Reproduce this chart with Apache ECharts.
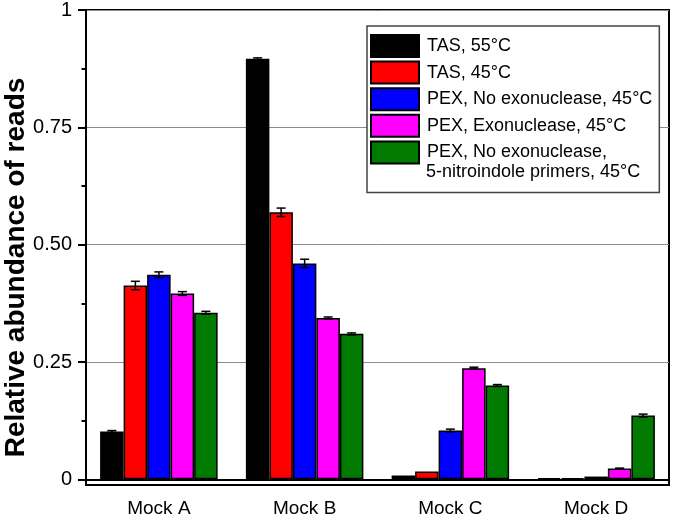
<!DOCTYPE html>
<html>
<head>
<meta charset="utf-8">
<script src="https://cdn.jsdelivr.net/npm/echarts@6/dist/echarts.min.js"></script>
<style>
html,body{margin:0;padding:0;background:#fff;}
#chart{width:674px;height:518px;}
</style>
</head>
<body>
<div id="chart"></div>
<script>
// ---- data ----
const categories = ['Mock A', 'Mock B', 'Mock C', 'Mock D'];
const seriesNames = [
  'TAS, 55°C',
  'TAS, 45°C',
  'PEX, No exonuclease, 45°C',
  'PEX, Exonuclease, 45°C',
  'PEX, No exonuclease,\n5-nitroindole primers, 45°C'
];
const tas55 = [0.102, 0.896, 0.008, 0.003];
const tas45 = [0.413, 0.569, 0.017, 0.003];
const pexNoExo = [0.436, 0.460, 0.104, 0.006];
const pexExo = [0.396, 0.344, 0.237, 0.023];
const pexNitro = [0.355, 0.310, 0.200, 0.136];
const tas55Err = [0.002, 0.002, 0.000, 0.000];
const tas45Err = [0.009, 0.009, 0.000, 0.000];
const pexNoExoErr = [0.006, 0.009, 0.003, 0.000];
const pexExoErr = [0.004, 0.002, 0.002, 0.001];
const pexNitroErr = [0.003, 0.002, 0.002, 0.003];
const yTickValues = [0, 0.25, 0.5, 0.75, 1];
const yTickLabels = ['0', '0.25', '0.50', '0.75', '1'];
const yMinorTicks = [0.125, 0.375, 0.625, 0.875];
const colors = ['#000000', '#ff0000', '#0000ff', '#ff00ff', '#007a00'];

const values = [tas55, tas45, pexNoExo, pexExo, pexNitro];
const errors = [tas55Err, tas45Err, pexNoExoErr, pexExoErr, pexNitroErr];

const BW = 23.5;
const FONT = '"Liberation Sans", Arial, sans-serif';

const chart = echarts.init(document.getElementById('chart'), null, {renderer: 'canvas'});

const series = [];
values.forEach((vals, i) => {
  series.push({
    name: seriesNames[i],
    type: 'bar',
    xAxisIndex: 0,
    yAxisIndex: 0,
    barWidth: BW,
    barGap: '0%',
    data: vals,
    itemStyle: {color: colors[i], borderColor: '#000', borderWidth: 1.5},
    emphasis: {disabled: true},
    z: 3
  });
});
values.forEach((vals, i) => {
  series.push({
    type: 'custom',
    xAxisIndex: 0,
    yAxisIndex: 0,
    z: 5,
    silent: true,
    data: vals.map((v, k) => [k, v, errors[i][k]]),
    renderItem: function (params, api) {
      const cat = api.value(0), v = api.value(1), e = api.value(2);
      if (!e) return null;
      const top = api.coord([cat, v + e]);
      const bot = api.coord([cat, v - e]);
      const x = top[0] + (i - 2) * BW;
      const st = {stroke: '#000', lineWidth: 1.5};
      return {
        type: 'group',
        children: [
          {type: 'line', shape: {x1: x, y1: top[1], x2: x, y2: bot[1]}, style: st},
          {type: 'line', shape: {x1: x - 4.5, y1: top[1], x2: x + 4.5, y2: top[1]}, style: st},
          {type: 'line', shape: {x1: x - 4.5, y1: bot[1], x2: x + 4.5, y2: bot[1]}, style: st}
        ]
      };
    }
  });
});

const option = {
  animation: false,
  backgroundColor: '#fff',
  textStyle: {fontFamily: FONT},
  grid: {
    left: 86, right: 5, top: 7.5, bottom: 32.8,
    show: true, borderColor: '#000', borderWidth: 2, backgroundColor: 'transparent',
    containLabel: false
  },
  legend: {
    orient: 'vertical',
    left: 367, top: 26,
    padding: [8, 7, 28, 3],
    backgroundColor: '#fff',
    borderColor: '#444',
    borderWidth: 1.5,
    itemWidth: 48,
    itemHeight: 22,
    itemGap: 2.6,
    icon: 'rect',
    selectedMode: false,
    data: seriesNames,
    formatter: function (name) {
      return name === seriesNames[4] ? 'PEX, No exonuclease,' : name;
    },
    textStyle: {fontSize: 18, color: '#000', fontFamily: FONT, padding: [0, 0, 0, 3]}
  },
  graphic: [
    {
      type: 'text', x: 426, y: 172, z: 100,
      style: {text: '5-nitroindole primers, 45°C', fontSize: 18, fontFamily: FONT, fill: '#000', align: 'left', verticalAlign: 'middle'}
    },
    {
      type: 'text', x: 16, y: 267.5, rotation: Math.PI / 2,
      style: {text: 'Relative abundance of reads', fontSize: 28, fontWeight: 'bold', fontFamily: FONT, fill: '#000', align: 'center', verticalAlign: 'middle'}
    }
  ],
  xAxis: [
    {
      type: 'category', data: categories, position: 'bottom', gridIndex: 0,
      axisLine: {lineStyle: {color: '#000', width: 2}},
      axisTick: {alignWithLabel: true, length: 7, lineStyle: {color: '#000', width: 2}},
      axisLabel: {fontSize: 19, color: '#000', margin: 14, fontFamily: FONT},
      splitLine: {show: false}
    },
    {
      type: 'category', data: categories, position: 'bottom', gridIndex: 0,
      axisLine: {show: false},
      axisTick: {alignWithLabel: false, length: 4, lineStyle: {color: '#000', width: 2}},
      axisLabel: {show: false},
      splitLine: {show: false}
    }
  ],
  yAxis: [
    {
      type: 'value', min: -0.012, max: 1, position: 'left', gridIndex: 0,
      axisLine: {show: true, lineStyle: {color: '#000', width: 2}},
      axisTick: {show: true, length: 8, customValues: yTickValues, lineStyle: {color: '#000', width: 2}},
      axisLabel: {
        fontSize: 20, color: '#000', margin: 14, fontFamily: FONT, customValues: yTickValues,
        formatter: function (v) {
          const idx = yTickValues.findIndex(t => Math.abs(t - v) < 1e-9);
          return idx >= 0 ? yTickLabels[idx] : '';
        }
      },
      splitLine: {show: true, lineStyle: {color: '#8c8c8c', width: 1}}
    },
    {
      type: 'value', min: -0.012, max: 1, position: 'left', gridIndex: 0,
      axisLine: {show: false},
      axisTick: {show: true, length: 4.5, customValues: yMinorTicks, lineStyle: {color: '#000', width: 2}},
      axisLabel: {show: false},
      splitLine: {show: false}
    }
  ],
  series: series
};
chart.setOption(option);
</script>
</body>
</html>
